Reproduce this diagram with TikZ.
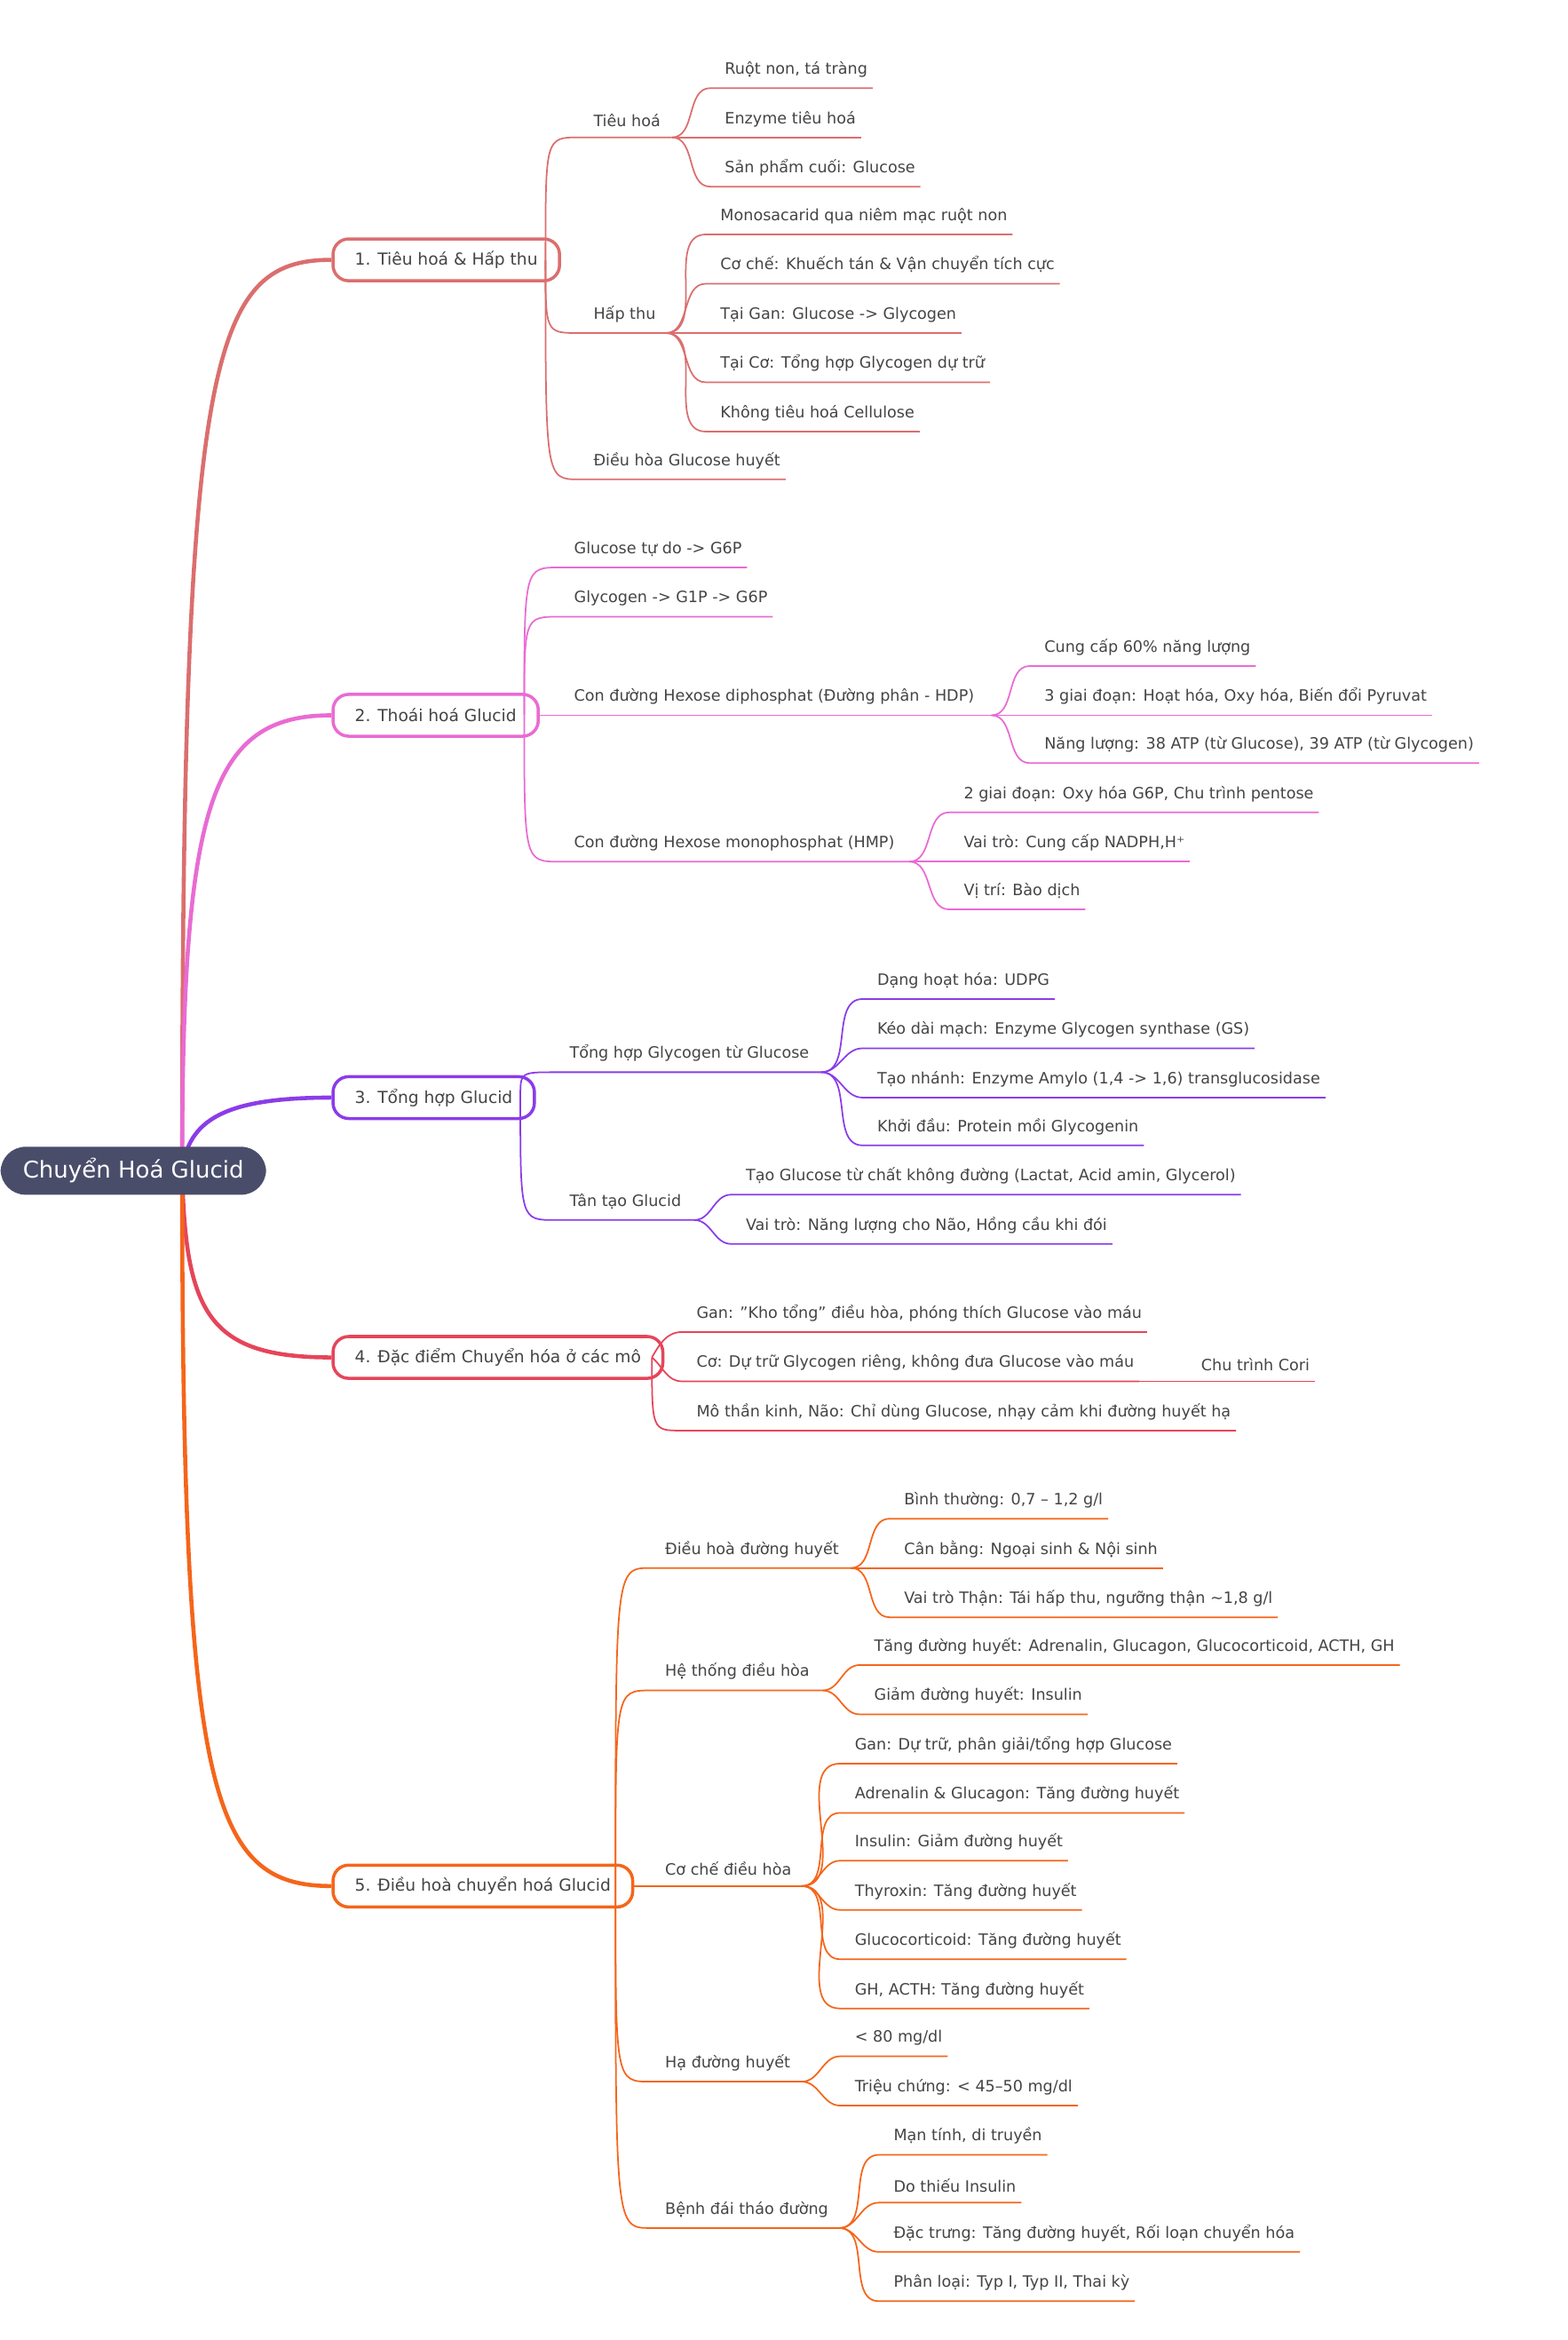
\documentclass[tikz,border=0pt]{standalone}
\usepackage{fontspec}
\setmainfont{DejaVu Sans}
\usetikzlibrary{positioning}
\definecolor{txt}{HTML}{444444}
\definecolor{rootc}{HTML}{4A4D6A}
\definecolor{cA}{HTML}{DB6E6E}
\definecolor{cB}{HTML}{E96BD3}
\definecolor{cC}{HTML}{8B3CE8}
\definecolor{cD}{HTML}{E5455A}
\definecolor{cE}{HTML}{F5651A}
\tikzset{
	leaf/.style={anchor=south west, inner xsep=1.5pt, inner ysep=3.2pt,
		font=\fontsize{5}{6}\selectfont, text=txt},
	topic/.style={draw, fill=white, rounded corners=5pt, line width=1pt,
		anchor=west, minimum height=13.4pt, inner xsep=7pt,
		font=\fontsize{5.3}{6}\selectfont, text=txt},
	link/.style={line width=0.5pt},
	trunk/.style={line width=1.3pt},
	rise/.style={to path={(\tikztostart) .. controls (\tikztostart |- \tikztotarget)
		and (\tikztostart |- \tikztotarget) .. (\tikztotarget)}}
}
\begin{document}
\begin{tikzpicture}[x=0.01682cm, y=-0.01682cm]
\useasboundingbox (0,0) rectangle (1050,1567);
\coordinate (ro) at (122,784);

% 1. Tieu hoa & Hap thu
\begin{scope}[color=cA]
\node[topic, draw=cA] (t1) at (222,174) {1. Tiêu hoá \& Hấp thu};
\draw[trunk] (ro) .. controls (122,240) and (140,174) .. (t1.west);
\coordinate (t1o) at ([xshift=-5pt]t1.east);

\node[leaf] (t1a) at (394,92) {Tiêu hoá};
\draw[link] (t1o) to[rise] ([xshift=-3pt]t1a.south west) -- (450,92) coordinate (f1a);
\node[leaf] (t1a1) at (482,59) {Ruột non, tá tràng};
\draw[link] (f1a) to[out=0,in=180] ([xshift=-3pt]t1a1.south west) -- (t1a1.south east);
\node[leaf] (t1a2) at (482,92) {Enzyme tiêu hoá};
\draw[link] (f1a) to[out=0,in=180] ([xshift=-3pt]t1a2.south west) -- (t1a2.south east);
\node[leaf] (t1a3) at (482,125) {Sản phẩm cuối: Glucose};
\draw[link] (f1a) to[out=0,in=180] ([xshift=-3pt]t1a3.south west) -- (t1a3.south east);

\node[leaf] (t1b) at (394,223) {Hấp thu};
\draw[link] (t1o) to[rise] ([xshift=-3pt]t1b.south west) -- (446,223) coordinate (f1b);
\node[leaf] (t1b1) at (479,157) {Monosacarid qua niêm mạc ruột non};
\draw[link] (f1b) to[out=0,in=180] ([xshift=-3pt]t1b1.south west) -- (t1b1.south east);
\node[leaf] (t1b2) at (479,190) {Cơ chế: Khuếch tán \& Vận chuyển tích cực};
\draw[link] (f1b) to[out=0,in=180] ([xshift=-3pt]t1b2.south west) -- (t1b2.south east);
\node[leaf] (t1b3) at (479,223) {Tại Gan: Glucose -> Glycogen};
\draw[link] (f1b) to[out=0,in=180] ([xshift=-3pt]t1b3.south west) -- (t1b3.south east);
\node[leaf] (t1b4) at (479,256) {Tại Cơ: Tổng hợp Glycogen dự trữ};
\draw[link] (f1b) to[out=0,in=180] ([xshift=-3pt]t1b4.south west) -- (t1b4.south east);
\node[leaf] (t1b5) at (479,289) {Không tiêu hoá Cellulose};
\draw[link] (f1b) to[out=0,in=180] ([xshift=-3pt]t1b5.south west) -- (t1b5.south east);

\node[leaf] (t1c) at (394,321) {Điều hòa Glucose huyết};
\draw[link] (t1o) to[rise] ([xshift=-3pt]t1c.south west) -- (t1c.south east);
\end{scope}

% 2. Thoai hoa Glucid
\begin{scope}[color=cB]
\node[topic, draw=cB] (t2) at (222,479) {2. Thoái hoá Glucid};
\draw[trunk] (ro) .. controls (122,540) and (140,479) .. (t2.west);
\coordinate (t2o) at ([xshift=-5pt]t2.east);

\node[leaf] (t2a) at (381,380) {Glucose tự do -> G6P};
\draw[link] (t2o) to[rise] ([xshift=-3pt]t2a.south west) -- (t2a.south east);
\node[leaf] (t2b) at (381,413) {Glycogen -> G1P -> G6P};
\draw[link] (t2o) to[rise] ([xshift=-3pt]t2b.south west) -- (t2b.south east);

\node[leaf] (t2c) at (381,479) {Con đường Hexose diphosphat (Đường phân - HDP)};
\draw[link] (t2.east) -- (664,479) coordinate (f2c);
\node[leaf] (t2c1) at (696,446) {Cung cấp 60\% năng lượng};
\draw[link] (f2c) to[out=0,in=180] ([xshift=-3pt]t2c1.south west) -- (t2c1.south east);
\node[leaf] (t2c2) at (696,479) {3 giai đoạn: Hoạt hóa, Oxy hóa, Biến đổi Pyruvat};
\draw[link] (f2c) to[out=0,in=180] ([xshift=-3pt]t2c2.south west) -- (t2c2.south east);
\node[leaf] (t2c3) at (696,511) {Năng lượng: 38 ATP (từ Glucose), 39 ATP (từ Glycogen)};
\draw[link] (f2c) to[out=0,in=180] ([xshift=-3pt]t2c3.south west) -- (t2c3.south east);

\node[leaf] (t2d) at (381,577) {Con đường Hexose monophosphat (HMP)};
\draw[link] (t2o) to[rise] ([xshift=-3pt]t2d.south west) -- (609,577) coordinate (f2d);
\node[leaf] (t2d1) at (642,544) {2 giai đoạn: Oxy hóa G6P, Chu trình pentose};
\draw[link] (f2d) to[out=0,in=180] ([xshift=-3pt]t2d1.south west) -- (t2d1.south east);
\node[leaf] (t2d2) at (642,577) {Vai trò: Cung cấp NADPH,H⁺};
\draw[link] (f2d) to[out=0,in=180] ([xshift=-3pt]t2d2.south west) -- (t2d2.south east);
\node[leaf] (t2d3) at (642,609) {Vị trí: Bào dịch};
\draw[link] (f2d) to[out=0,in=180] ([xshift=-3pt]t2d3.south west) -- (t2d3.south east);
\end{scope}

% 3. Tong hop Glucid
\begin{scope}[color=cC]
\node[topic, draw=cC] (t3) at (222,735) {3. Tổng hợp Glucid};
\draw[trunk] (ro) .. controls (126,750) and (150,735) .. (t3.west);
\coordinate (t3o) at ([xshift=-5pt]t3.east);

\node[leaf] (t3a) at (378,718) {Tổng hợp Glycogen từ Glucose};
\draw[link] (t3o) to[rise] ([xshift=-3pt]t3a.south west) -- (550,718) coordinate (f3a);
\node[leaf] (t3a1) at (584,669) {Dạng hoạt hóa: UDPG};
\draw[link] (f3a) to[out=0,in=180] ([xshift=-3pt]t3a1.south west) -- (t3a1.south east);
\node[leaf] (t3a2) at (584,702) {Kéo dài mạch: Enzyme Glycogen synthase (GS)};
\draw[link] (f3a) to[out=0,in=180] ([xshift=-3pt]t3a2.south west) -- (t3a2.south east);
\node[leaf] (t3a3) at (584,735) {Tạo nhánh: Enzyme Amylo (1,4 -> 1,6) transglucosidase};
\draw[link] (f3a) to[out=0,in=180] ([xshift=-3pt]t3a3.south west) -- (t3a3.south east);
\node[leaf] (t3a4) at (584,767) {Khởi đầu: Protein mồi Glycogenin};
\draw[link] (f3a) to[out=0,in=180] ([xshift=-3pt]t3a4.south west) -- (t3a4.south east);

\node[leaf] (t3b) at (378,817) {Tân tạo Glucid};
\draw[link] (t3o) to[rise] ([xshift=-3pt]t3b.south west) -- (465,817) coordinate (f3b);
\node[leaf] (t3b1) at (496,800) {Tạo Glucose từ chất không đường (Lactat, Acid amin, Glycerol)};
\draw[link] (f3b) to[out=0,in=180] ([xshift=-3pt]t3b1.south west) -- (t3b1.south east);
\node[leaf] (t3b2) at (496,833) {Vai trò: Năng lượng cho Não, Hồng cầu khi đói};
\draw[link] (f3b) to[out=0,in=180] ([xshift=-3pt]t3b2.south west) -- (t3b2.south east);
\end{scope}

% 4. Dac diem chuyen hoa o cac mo
\begin{scope}[color=cD]
\node[topic, draw=cD] (t4) at (222,909) {4. Đặc điểm Chuyển hóa ở các mô};
\draw[trunk] (ro) .. controls (124,880) and (140,909) .. (t4.west);
\coordinate (t4o) at ([xshift=-4pt]t4.east);

\node[leaf] (t4a) at (463,892) {Gan: \symbol{34}Kho tổng\symbol{34} điều hòa, phóng thích Glucose vào máu};
\draw[link] (t4o) to[out=60,in=180] ([xshift=-3pt]t4a.south west) -- (t4a.south east);
\node[leaf] (t4b) at (463,925) {Cơ: Dự trữ Glycogen riêng, không đưa Glucose vào máu};
\draw[link] (t4o) to[out=-40,in=180] ([xshift=-3pt]t4b.south west) -- (t4b.south east);
\node[leaf] (t4b1) at (801,925) {Chu trình Cori};
\draw[link] (t4b.south east) -- (t4b1.south east);
\node[leaf] (t4c) at (463,958) {Mô thần kinh, Não: Chỉ dùng Glucose, nhạy cảm khi đường huyết hạ};
\draw[link] (t4o) to[rise] ([xshift=-3pt]t4c.south west) -- (t4c.south east);
\end{scope}

% 5. Dieu hoa chuyen hoa Glucid
\begin{scope}[color=cE]
\node[topic, draw=cE] (t5) at (222,1263) {5. Điều hoà chuyển hoá Glucid};
\draw[trunk] (ro) .. controls (122,1200) and (140,1263) .. (t5.west);
\coordinate (t5o) at ([xshift=-6pt]t5.east);

\node[leaf] (t5a) at (442,1050) {Điều hoà đường huyết};
\draw[link] (t5o) to[rise] ([xshift=-3pt]t5a.south west) -- (570,1050) coordinate (f5a);
\node[leaf] (t5a1) at (602,1017) {Bình thường: 0,7 – 1,2 g/l};
\draw[link] (f5a) to[out=0,in=180] ([xshift=-3pt]t5a1.south west) -- (t5a1.south east);
\node[leaf] (t5a2) at (602,1050) {Cân bằng: Ngoại sinh \& Nội sinh};
\draw[link] (f5a) to[out=0,in=180] ([xshift=-3pt]t5a2.south west) -- (t5a2.south east);
\node[leaf] (t5a3) at (602,1083) {Vai trò Thận: Tái hấp thu, ngưỡng thận \textasciitilde1,8 g/l};
\draw[link] (f5a) to[out=0,in=180] ([xshift=-3pt]t5a3.south west) -- (t5a3.south east);

\node[leaf] (t5b) at (442,1132) {Hệ thống điều hòa};
\draw[link] (t5o) to[rise] ([xshift=-3pt]t5b.south west) -- (551,1132) coordinate (f5b);
\node[leaf] (t5b1) at (582,1115) {Tăng đường huyết: Adrenalin, Glucagon, Glucocorticoid, ACTH, GH};
\draw[link] (f5b) to[out=0,in=180] ([xshift=-3pt]t5b1.south west) -- (t5b1.south east);
\node[leaf] (t5b2) at (582,1148) {Giảm đường huyết: Insulin};
\draw[link] (f5b) to[out=0,in=180] ([xshift=-3pt]t5b2.south west) -- (t5b2.south east);

\node[leaf] (t5c) at (442,1263) {Cơ chế điều hòa};
\draw[link] (t5.east) -- ([xshift=-3pt]t5c.south west) -- (537,1263) coordinate (f5c);
\node[leaf] (t5c1) at (569,1181) {Gan: Dự trữ, phân giải/tổng hợp Glucose};
\draw[link] (f5c) to[out=0,in=180] ([xshift=-3pt]t5c1.south west) -- (t5c1.south east);
\node[leaf] (t5c2) at (569,1214) {Adrenalin \& Glucagon: Tăng đường huyết};
\draw[link] (f5c) to[out=0,in=180] ([xshift=-3pt]t5c2.south west) -- (t5c2.south east);
\node[leaf] (t5c3) at (569,1246) {Insulin: Giảm đường huyết};
\draw[link] (f5c) to[out=0,in=180] ([xshift=-3pt]t5c3.south west) -- (t5c3.south east);
\node[leaf] (t5c4) at (569,1279) {Thyroxin: Tăng đường huyết};
\draw[link] (f5c) to[out=0,in=180] ([xshift=-3pt]t5c4.south west) -- (t5c4.south east);
\node[leaf] (t5c5) at (569,1312) {Glucocorticoid: Tăng đường huyết};
\draw[link] (f5c) to[out=0,in=180] ([xshift=-3pt]t5c5.south west) -- (t5c5.south east);
\node[leaf] (t5c6) at (569,1345) {GH, ACTH: Tăng đường huyết};
\draw[link] (f5c) to[out=0,in=180] ([xshift=-3pt]t5c6.south west) -- (t5c6.south east);

\node[leaf] (t5d) at (442,1394) {Hạ đường huyết};
\draw[link] (t5o) to[rise] ([xshift=-3pt]t5d.south west) -- (537,1394) coordinate (f5d);
\node[leaf] (t5d1) at (569,1377) {< 80 mg/dl};
\draw[link] (f5d) to[out=0,in=180] ([xshift=-3pt]t5d1.south west) -- (t5d1.south east);
\node[leaf] (t5d2) at (569,1410) {Triệu chứng: < 45–50 mg/dl};
\draw[link] (f5d) to[out=0,in=180] ([xshift=-3pt]t5d2.south west) -- (t5d2.south east);

\node[leaf] (t5e) at (442,1492) {Bệnh đái tháo đường};
\draw[link] (t5o) to[rise] ([xshift=-3pt]t5e.south west) -- (562,1492) coordinate (f5e);
\node[leaf] (t5e1) at (595,1443) {Mạn tính, di truyền};
\draw[link] (f5e) to[out=0,in=180] ([xshift=-3pt]t5e1.south west) -- (t5e1.south east);
\node[leaf] (t5e2) at (595,1475) {Do thiếu Insulin};
\draw[link] (f5e) to[out=0,in=180] ([xshift=-3pt]t5e2.south west) -- (t5e2.south east);
\node[leaf] (t5e3) at (595,1508) {Đặc trưng: Tăng đường huyết, Rối loạn chuyển hóa};
\draw[link] (f5e) to[out=0,in=180] ([xshift=-3pt]t5e3.south west) -- (t5e3.south east);
\node[leaf] (t5e4) at (595,1541) {Phân loại: Typ I, Typ II, Thai kỳ};
\draw[link] (f5e) to[out=0,in=180] ([xshift=-3pt]t5e4.south west) -- (t5e4.south east);
\end{scope}

% root on top
\node[fill=rootc, rounded corners=8pt, minimum width=2.99cm, minimum height=0.54cm,
	text=white, font=\fontsize{7.4}{8}\selectfont, anchor=west] (root) at (0,784) {Chuyển Hoá Glucid};
\end{tikzpicture}
\end{document}
